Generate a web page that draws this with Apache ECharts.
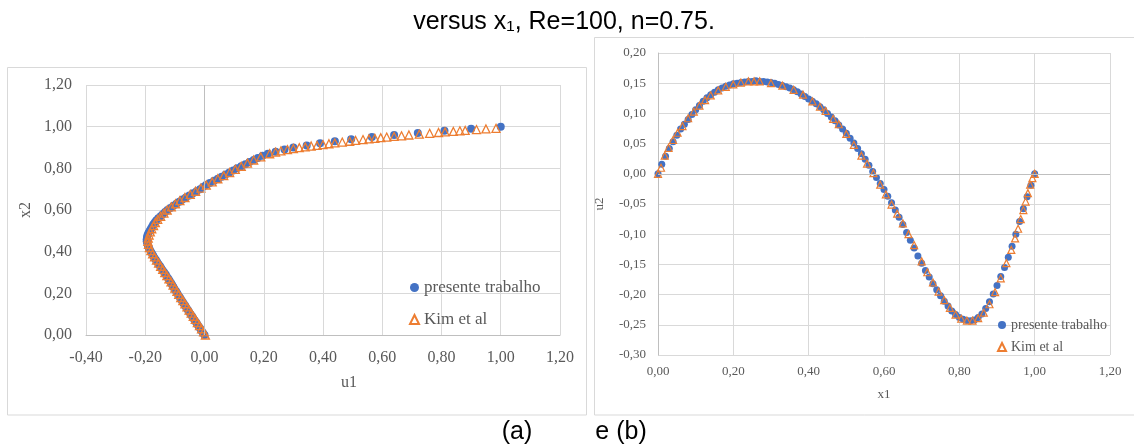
<!DOCTYPE html>
<html>
<head>
<meta charset="utf-8">
<script src="https://cdn.jsdelivr.net/npm/echarts@6/dist/echarts.min.js"></script>
<style>
html,body{margin:0;padding:0;background:#fff;}
#chart{width:1134px;height:448px;}
</style>
</head>
<body>
<div id="chart"></div>
<script>
// ---- Data: chart (a) u1 vs x2 ----
const aPresX2 = [0.00,0.01,0.02,0.03,0.04,0.05,0.06,0.07,0.08,0.09,0.10,0.11,0.12,0.13,0.14,0.15,0.16,0.17,0.18,0.19,0.20,0.21,0.22,0.23,0.24,0.25,0.26,0.27,0.28,0.29,0.30,0.31,0.32,0.33,0.34,0.35,0.36,0.37,0.38,0.39,0.40,0.41,0.42,0.43,0.44,0.45,0.46,0.47,0.48,0.49,0.50,0.51,0.52,0.53,0.54,0.55,0.56,0.57,0.58,0.59,0.60,0.61,0.62,0.63,0.64,0.65,0.66,0.67,0.68,0.69,0.70,0.71,0.72,0.73,0.74,0.75,0.76,0.77,0.78,0.79,0.80,0.81,0.82,0.83,0.84,0.85,0.86,0.87,0.88,0.89,0.90,0.91,0.92,0.93,0.94,0.95,0.96,0.97,0.98,0.99,1.00];
const aPresU1 = [0.000,-0.005,-0.010,-0.014,-0.019,-0.024,-0.028,-0.033,-0.038,-0.042,-0.047,-0.052,-0.056,-0.061,-0.065,-0.070,-0.074,-0.079,-0.083,-0.088,-0.092,-0.096,-0.101,-0.105,-0.109,-0.113,-0.118,-0.122,-0.127,-0.131,-0.136,-0.141,-0.146,-0.150,-0.155,-0.160,-0.164,-0.169,-0.173,-0.177,-0.181,-0.185,-0.188,-0.191,-0.193,-0.195,-0.195,-0.194,-0.192,-0.189,-0.185,-0.181,-0.177,-0.173,-0.168,-0.163,-0.156,-0.148,-0.141,-0.133,-0.125,-0.115,-0.105,-0.095,-0.085,-0.075,-0.063,-0.051,-0.039,-0.027,-0.015,-0.005,0.005,0.018,0.032,0.045,0.058,0.071,0.084,0.097,0.110,0.124,0.138,0.152,0.166,0.180,0.196,0.214,0.240,0.270,0.300,0.345,0.390,0.440,0.495,0.565,0.640,0.720,0.810,0.900,1.000];
const aKimX2 = [0.000,0.015,0.030,0.045,0.060,0.075,0.090,0.105,0.120,0.135,0.150,0.165,0.180,0.195,0.210,0.225,0.240,0.255,0.270,0.285,0.300,0.315,0.330,0.345,0.360,0.375,0.390,0.405,0.420,0.435,0.450,0.465,0.480,0.495,0.510,0.525,0.540,0.555,0.570,0.585,0.600,0.615,0.630,0.645,0.660,0.675,0.690,0.705,0.720,0.735,0.750,0.765,0.780,0.795,0.810,0.825,0.840,0.855,0.870,0.878,0.884,0.890,0.895,0.899,0.903,0.907,0.910,0.914,0.918,0.922,0.926,0.930,0.934,0.938,0.941,0.944,0.947,0.950,0.953,0.956,0.960,0.964,0.968,0.972,0.975,0.977,0.980,0.982,0.986,0.989,0.992];
const aKimU1 = [0.003,-0.003,-0.010,-0.017,-0.024,-0.031,-0.038,-0.045,-0.052,-0.059,-0.066,-0.073,-0.080,-0.087,-0.093,-0.100,-0.106,-0.113,-0.120,-0.127,-0.134,-0.141,-0.148,-0.155,-0.162,-0.169,-0.175,-0.181,-0.186,-0.189,-0.191,-0.190,-0.187,-0.183,-0.178,-0.172,-0.166,-0.158,-0.148,-0.137,-0.126,-0.112,-0.098,-0.083,-0.066,-0.048,-0.030,-0.012,0.006,0.026,0.045,0.065,0.085,0.104,0.124,0.145,0.166,0.190,0.220,0.240,0.258,0.280,0.300,0.320,0.340,0.360,0.380,0.400,0.420,0.440,0.465,0.490,0.510,0.535,0.555,0.575,0.595,0.615,0.640,0.665,0.690,0.725,0.760,0.790,0.812,0.840,0.862,0.880,0.918,0.950,0.984];

// ---- Data: chart (b) u2 vs x1 ----
const bPresX1 = [0.00,0.01,0.02,0.03,0.04,0.05,0.06,0.07,0.08,0.09,0.10,0.11,0.12,0.13,0.14,0.15,0.16,0.17,0.18,0.19,0.20,0.21,0.22,0.23,0.24,0.25,0.26,0.27,0.28,0.29,0.30,0.31,0.32,0.33,0.34,0.35,0.36,0.37,0.38,0.39,0.40,0.41,0.42,0.43,0.44,0.45,0.46,0.47,0.48,0.49,0.50,0.51,0.52,0.53,0.54,0.55,0.56,0.57,0.58,0.59,0.60,0.61,0.62,0.63,0.64,0.65,0.66,0.67,0.68,0.69,0.70,0.71,0.72,0.73,0.74,0.75,0.76,0.77,0.78,0.79,0.80,0.81,0.82,0.83,0.84,0.85,0.86,0.87,0.88,0.89,0.90,0.91,0.92,0.93,0.94,0.95,0.96,0.97,0.98,0.99,1.00];
const bPresU2 = [0.000,0.016,0.029,0.042,0.053,0.064,0.074,0.082,0.090,0.098,0.106,0.113,0.120,0.126,0.131,0.135,0.139,0.142,0.145,0.147,0.149,0.150,0.151,0.152,0.153,0.153,0.154,0.153,0.153,0.152,0.151,0.150,0.148,0.146,0.144,0.142,0.139,0.136,0.132,0.128,0.124,0.120,0.116,0.111,0.106,0.100,0.094,0.088,0.081,0.074,0.067,0.059,0.051,0.042,0.033,0.024,0.014,0.004,-0.006,-0.016,-0.026,-0.037,-0.048,-0.060,-0.072,-0.084,-0.097,-0.110,-0.123,-0.136,-0.148,-0.160,-0.171,-0.182,-0.192,-0.202,-0.211,-0.219,-0.227,-0.233,-0.238,-0.241,-0.243,-0.2435,-0.242,-0.238,-0.232,-0.223,-0.212,-0.199,-0.185,-0.170,-0.155,-0.138,-0.120,-0.100,-0.079,-0.058,-0.038,-0.019,0.000];
const bKimX1 = [0.000,0.008,0.018,0.028,0.040,0.052,0.065,0.080,0.095,0.110,0.125,0.140,0.160,0.180,0.200,0.220,0.240,0.255,0.270,0.300,0.330,0.360,0.385,0.410,0.430,0.445,0.465,0.480,0.500,0.520,0.540,0.555,0.572,0.590,0.605,0.620,0.635,0.650,0.665,0.680,0.700,0.715,0.730,0.745,0.760,0.775,0.790,0.805,0.820,0.835,0.850,0.865,0.880,0.895,0.910,0.925,0.938,0.948,0.956,0.963,0.970,0.976,0.982,0.988,0.994,1.000];
const bKimU2 = [0.000,0.010,0.030,0.043,0.056,0.068,0.079,0.092,0.103,0.113,0.122,0.130,0.138,0.144,0.148,0.151,0.153,0.153,0.153,0.150,0.146,0.139,0.131,0.120,0.111,0.104,0.091,0.082,0.066,0.048,0.030,0.017,0.001,-0.018,-0.034,-0.051,-0.066,-0.082,-0.100,-0.118,-0.145,-0.163,-0.180,-0.195,-0.209,-0.222,-0.233,-0.240,-0.243,-0.243,-0.239,-0.230,-0.216,-0.196,-0.173,-0.148,-0.126,-0.107,-0.091,-0.075,-0.060,-0.046,-0.032,-0.018,-0.007,0.000];

const seriesNames = ['presente trabalho', 'Kim et al'];
const titleText = 'versus x\u2081, Re=100, n=0.75.';

function zip(xs, ys){ return xs.map((x,i)=>[x, ys[i]]); }
const fmt = v => v.toFixed(2).replace('.', ',');

const BLUE = '#4472C4', ORANGE = '#ED7D31', GRID = '#d9d9d9', AXIS = '#bfbfbf', TXT = '#595959';
const SERIF = '"Liberation Serif", "Times New Roman", serif';
const SANS = '"Liberation Sans", Arial, sans-serif';

const chart = echarts.init(document.getElementById('chart'), null, {renderer:'canvas'});
const zeroLine = (key) => ({
  silent: true, symbol: ['none','none'], label:{show:false},
  lineStyle:{color: AXIS, type:'solid', width:1},
  emphasis:{disabled:true},
  data: [ key === 'x' ? {xAxis:0} : {yAxis:0} ]
});

chart.setOption({
  animation: false,
  backgroundColor: '#fff',
  grid: [
    {left: 86, top: 85, width: 474, height: 250},
    {left: 658, top: 53, width: 452, height: 302}
  ],
  xAxis: [
    {gridIndex:0, type:'value', min:-0.4, max:1.2, interval:0.2,
     name:'u1', nameLocation:'middle', nameGap:40,
     nameTextStyle:{fontFamily:SERIF, fontSize:16, color:TXT, padding:[0,0,0,52]},
     axisLine:{show:true, onZero:false, lineStyle:{color:AXIS}}, axisTick:{show:false},
     axisLabel:{formatter:fmt, fontFamily:SERIF, fontSize:16, color:TXT, margin:15},
     splitLine:{show:true, lineStyle:{color:GRID}}},
    {gridIndex:1, type:'value', min:0, max:1.2, interval:0.2,
     name:'x1', nameLocation:'middle', nameGap:33,
     nameTextStyle:{fontFamily:SERIF, fontSize:13, color:TXT},
     axisLine:{show:false}, axisTick:{show:false},
     axisLabel:{formatter:fmt, fontFamily:SERIF, fontSize:13, color:TXT, margin:10},
     splitLine:{show:true, lineStyle:{color:GRID}}}
  ],
  yAxis: [
    {gridIndex:0, type:'value', min:0, max:1.2, interval:0.2,
     name:'x2', nameLocation:'middle', nameGap:52,
     nameTextStyle:{fontFamily:SERIF, fontSize:16, color:TXT},
     axisLine:{show:false}, axisTick:{show:false},
     axisLabel:{formatter:fmt, fontFamily:SERIF, fontSize:16, color:TXT, margin:14},
     splitLine:{show:true, lineStyle:{color:GRID}}},
    {gridIndex:1, type:'value', min:-0.3, max:0.2, interval:0.05,
     name:'u2', nameLocation:'middle', nameGap:52,
     nameTextStyle:{fontFamily:SERIF, fontSize:13, color:TXT},
     axisLine:{show:true, onZero:false, lineStyle:{color:AXIS}}, axisTick:{show:false},
     axisLabel:{formatter:fmt, fontFamily:SERIF, fontSize:13, color:TXT, margin:12},
     splitLine:{show:true, lineStyle:{color:GRID}}}
  ],
  legend: [
    {orient:'vertical', left:404, top:274, itemGap:15, itemWidth:9, itemHeight:9,
     textStyle:{fontFamily:SERIF, fontSize:17, color:TXT},
     data:[{name:seriesNames[0], icon:'circle'}, {name:seriesNames[1], icon:'triangle'}]},
    {orient:'vertical', left:992, top:313, itemGap:8, itemWidth:8, itemHeight:8,
     textStyle:{fontFamily:SERIF, fontSize:14, color:TXT},
     data:[{name:seriesNames[0], icon:'circle'}, {name:seriesNames[1], icon:'triangle'}]}
  ],
  series: [
    {name:seriesNames[0], type:'scatter', xAxisIndex:0, yAxisIndex:0, symbol:'circle', symbolSize:8,
     itemStyle:{color:BLUE, opacity:1}, data: zip(aPresU1, aPresX2), markLine: zeroLine('x'), z:2},
    {name:seriesNames[1], type:'scatter', xAxisIndex:0, yAxisIndex:0, symbol:'triangle', symbolSize:8,
     itemStyle:{color:'rgba(0,0,0,0)', borderColor:ORANGE, borderWidth:1.3, opacity:1}, data: zip(aKimU1, aKimX2), z:3},
    {name:seriesNames[0], type:'scatter', xAxisIndex:1, yAxisIndex:1, symbol:'circle', symbolSize:7,
     itemStyle:{color:BLUE, opacity:1}, data: zip(bPresX1, bPresU2), markLine: zeroLine('y'), z:2},
    {name:seriesNames[1], type:'scatter', xAxisIndex:1, yAxisIndex:1, symbol:'triangle', symbolSize:7,
     itemStyle:{color:'rgba(0,0,0,0)', borderColor:ORANGE, borderWidth:1.2, opacity:1}, data: zip(bKimX1, bKimU2), z:3}
  ],
  graphic: [
    {type:'rect', silent:true, z:-10, shape:{x:7.5, y:67.5, width:579, height:347.5},
     style:{fill:'none', stroke:GRID, lineWidth:1}},
    {type:'rect', silent:true, z:-10, shape:{x:594.5, y:37.5, width:600, height:377.5},
     style:{fill:'none', stroke:GRID, lineWidth:1}},
    {type:'text', silent:true, x:564, y:22,
     style:{text:titleText, fontFamily:SANS, fontSize:25, fill:'#000', align:'center', verticalAlign:'middle'}},
    {type:'text', silent:true, x:517, y:432,
     style:{text:'(a)', fontFamily:SANS, fontSize:25, fill:'#000', align:'center', verticalAlign:'middle'}},
    {type:'text', silent:true, x:621, y:432,
     style:{text:'e (b)', fontFamily:SANS, fontSize:25, fill:'#000', align:'center', verticalAlign:'middle'}}
  ]
});
</script>
</body>
</html>
